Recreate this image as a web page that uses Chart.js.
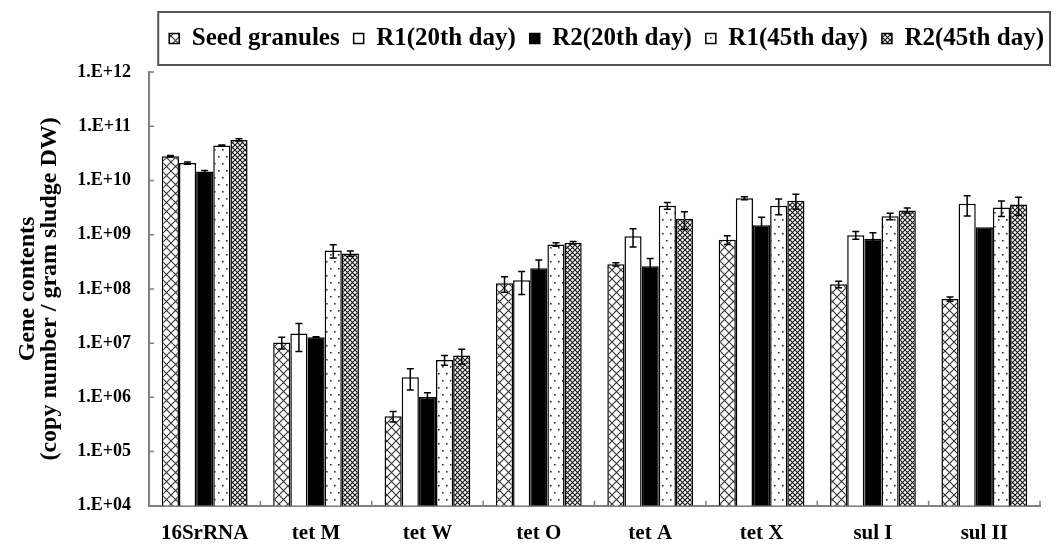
<!DOCTYPE html>
<html>
<head>
<meta charset="utf-8">
<script src="https://cdn.jsdelivr.net/npm/chart.js@4/dist/chart.umd.min.js"></script>
<style>
  html, body { margin: 0; padding: 0; background: #fff; }
  #wrap { width: 1058px; height: 550px; position: relative; }
</style>
</head>
<body>
<div id="wrap"><canvas id="c"></canvas></div>
<script>
// ---- data ----
const categories = ['16SrRNA', 'tet M', 'tet W', 'tet O', 'tet A', 'tet X', 'sul I', 'sul II'];
const seriesNames = ['Seed granules', 'R1(20th day)', 'R2(20th day)', 'R1(45th day)', 'R2(45th day)'];

const seedValues = [2.8e10, 1.03e7, 4.5e5, 1.27e8, 2.84e8, 8.1e8, 1.22e8, 6.5e7];
const seedErrors = [8e8, 2.5e6, 1e5, 4e7, 2e7, 1.5e8, 1.7e7, 6e6];
const r1d20Values = [2.1e10, 1.5e7, 2.36e6, 1.44e8, 9.4e8, 4.7e9, 9.8e8, 3.7e9];
const r1d20Errors = [1e9, 8e6, 1e6, 6.5e7, 3.5e8, 3e8, 1.6e8, 1.5e9];
const r2d20Values = [1.46e10, 1.28e7, 1.01e6, 2.4e8, 2.63e8, 1.49e9, 8.4e8, 1.37e9];
const r2d20Errors = [7e8, 3e5, 2e5, 1e8, 1e8, 6e8, 2.5e8, 0];
const r1d45Values = [4.4e10, 5.1e8, 4.9e6, 6.6e8, 3.43e9, 3.43e9, 2.18e9, 3.16e9];
const r1d45Errors = [1.2e9, 1.4e8, 1e6, 5e7, 5e8, 1.1e9, 3e8, 1e9];
const r2d45Values = [5.6e10, 4.5e8, 5.9e6, 7.1e8, 1.95e9, 4.24e9, 2.8e9, 3.59e9];
const r2d45Errors = [2.5e9, 5e7, 1.8e6, 4e7, 7e8, 1.3e9, 3e8, 1.3e9];

const tickExponents = [4, 5, 6, 7, 8, 9, 10, 11, 12];

// ---- patterns ----
function makePattern(w, h, draw) {
  const c = document.createElement('canvas');
  c.width = w; c.height = h;
  const g = c.getContext('2d');
  g.fillStyle = '#fff';
  g.fillRect(0, 0, w, h);
  draw(g, w, h);
  return document.createElement('canvas').getContext('2d').createPattern(c, 'repeat');
}
const crossPattern = makePattern(9, 9, (g, w, h) => {
  g.strokeStyle = '#333'; g.lineWidth = 1.1;
  g.beginPath();
  g.moveTo(0, 0); g.lineTo(w, h);
  g.moveTo(w, 0); g.lineTo(0, h);
  g.stroke();
});
const dotPattern = makePattern(8, 14, (g) => {
  g.fillStyle = '#333';
  g.fillRect(2, 2, 1.6, 1.6);
  g.fillRect(6, 9, 1.6, 1.6);
});
const densePattern = makePattern(5, 5, (g, w, h) => {
  g.strokeStyle = '#1a1a1a'; g.lineWidth = 1.2;
  g.beginPath();
  g.moveTo(0, 0); g.lineTo(w, h);
  g.moveTo(w, 0); g.lineTo(0, h);
  g.stroke();
});

const seriesValues = [seedValues, r1d20Values, r2d20Values, r1d45Values, r2d45Values];
const seriesErrors = [seedErrors, r1d20Errors, r2d20Errors, r1d45Errors, r2d45Errors];
const seriesFills = [crossPattern, '#ffffff', '#000000', dotPattern, densePattern];

const datasets = seriesNames.map((name, i) => ({
  label: name,
  data: seriesValues[i],
  errors: seriesErrors[i],
  backgroundColor: seriesFills[i],
  borderColor: '#000',
  borderWidth: 1.5,
  barPercentage: 1.0,
  categoryPercentage: 0.77
}));

// ---- plugins ----
const errorBars = {
  id: 'errorBars',
  afterDatasetsDraw(chart) {
    const ctx = chart.ctx;
    const y = chart.scales.y;
    ctx.save();
    ctx.strokeStyle = '#000';
    ctx.lineWidth = 1.5;
    chart.data.datasets.forEach((ds, i) => {
      const meta = chart.getDatasetMeta(i);
      meta.data.forEach((bar, j) => {
        const v = ds.data[j], e = ds.errors[j];
        if (!e) return;
        const yt = y.getPixelForValue(v + e);
        const yb = y.getPixelForValue(Math.max(v - e, y.min));
        const x = bar.x, cw = 3.5;
        ctx.beginPath();
        ctx.moveTo(x, yt); ctx.lineTo(x, yb);
        ctx.moveTo(x - cw, yt); ctx.lineTo(x + cw, yt);
        ctx.moveTo(x - cw, yb); ctx.lineTo(x + cw, yb);
        ctx.stroke();
      });
    });
    ctx.restore();
  }
};

const innerTicks = {
  id: 'innerTicks',
  afterDraw(chart) {
    const ctx = chart.ctx;
    const y = chart.scales.y, x = chart.scales.x;
    ctx.save();
    ctx.strokeStyle = '#808080';
    ctx.lineWidth = 1.5;
    ctx.beginPath();
    y.ticks.forEach(t => {
      const py = y.getPixelForValue(t.value);
      ctx.moveTo(x.left, py); ctx.lineTo(x.left + 5, py);
    });
    const n = categories.length;
    for (let i = 1; i <= n; i++) {
      const px = x.left + i * (x.right - x.left) / n;
      ctx.moveTo(px, y.bottom); ctx.lineTo(px, y.bottom - 5);
    }
    ctx.stroke();
    ctx.restore();
  }
};

const legendSpace = {
  id: 'legendSpace',
  afterInit(chart) {
    const lg = chart.legend;
    if (!lg) return;
    const orig = lg.fit;
    lg.fit = function () { orig.call(this); this.height += 11; };
  }
};

const legendFrame = {
  id: 'legendFrame',
  afterDraw(chart) {
    const lg = chart.legend;
    if (!lg || !lg.legendHitBoxes || !lg.legendHitBoxes.length) return;
    const hb = lg.legendHitBoxes;
    const first = hb[0], last = hb[hb.length - 1];
    const left = first.left - 11;
    const right = last.left + last.width + 6;
    const top = lg.top;
    const bottom = lg.top + 53;
    const ctx = chart.ctx;
    ctx.save();
    ctx.strokeStyle = '#555';
    ctx.lineWidth = 2;
    ctx.strokeRect(left, top, right - left, bottom - top);
    ctx.restore();
  }
};

const serif = "'Liberation Serif', 'Times New Roman', serif";

new Chart(document.getElementById('c'), {
  type: 'bar',
  data: { labels: categories, datasets },
  plugins: [legendSpace, errorBars, innerTicks, legendFrame],
  options: {
    responsive: true,
    maintainAspectRatio: false,
    animation: false,
    devicePixelRatio: 1,
    layout: { padding: { left: 0, right: 0, top: 12, bottom: -11 } },
    plugins: {
      tooltip: { enabled: false },
      legend: {
        position: 'top',
        align: 'end',
        labels: {
          color: '#000',
          font: { family: serif, size: 25, weight: 'bold' },
          boxWidth: 10,
          boxHeight: 10,
          padding: 14
        }
      }
    },
    scales: {
      x: {
        type: 'category',
        offset: true,
        grid: { display: false, drawTicks: false },
        border: { display: true, color: '#808080', width: 2 },
        ticks: {
          color: '#000',
          padding: 15,
          font: { family: serif, size: 21, weight: 'bold' },
          maxRotation: 0,
          autoSkip: false
        }
      },
      y: {
        type: 'logarithmic',
        min: 1e4,
        max: 1e12,
        afterBuildTicks(scale) {
          scale.ticks = tickExponents.map(e => ({ value: Math.pow(10, e) }));
        },
        afterFit(scale) { scale.width = 149; },
        grid: { display: false, drawTicks: false },
        border: { display: true, color: '#808080', width: 2 },
        ticks: {
          color: '#000',
          padding: 18,
          font: { family: serif, size: 18, weight: 'bold' },
          callback(value) {
            const e = Math.round(Math.log10(value));
            return '1.E+' + (e < 10 ? '0' + e : '' + e);
          }
        },
        title: {
          display: true,
          text: ['Gene contents', '(copy number / gram sludge DW)'],
          color: '#000',
          font: { family: serif, size: 24, weight: 'bold', lineHeight: 0.9 },
          padding: { top: 17, bottom: 0 }
        }
      },
      yR: {
        type: 'linear',
        position: 'right',
        display: true,
        grid: { display: false, drawTicks: false },
        border: { display: false },
        ticks: { display: false },
        afterFit(scale) { scale.width = 18; }
      }
    }
  }
});
</script>
</body>
</html>
